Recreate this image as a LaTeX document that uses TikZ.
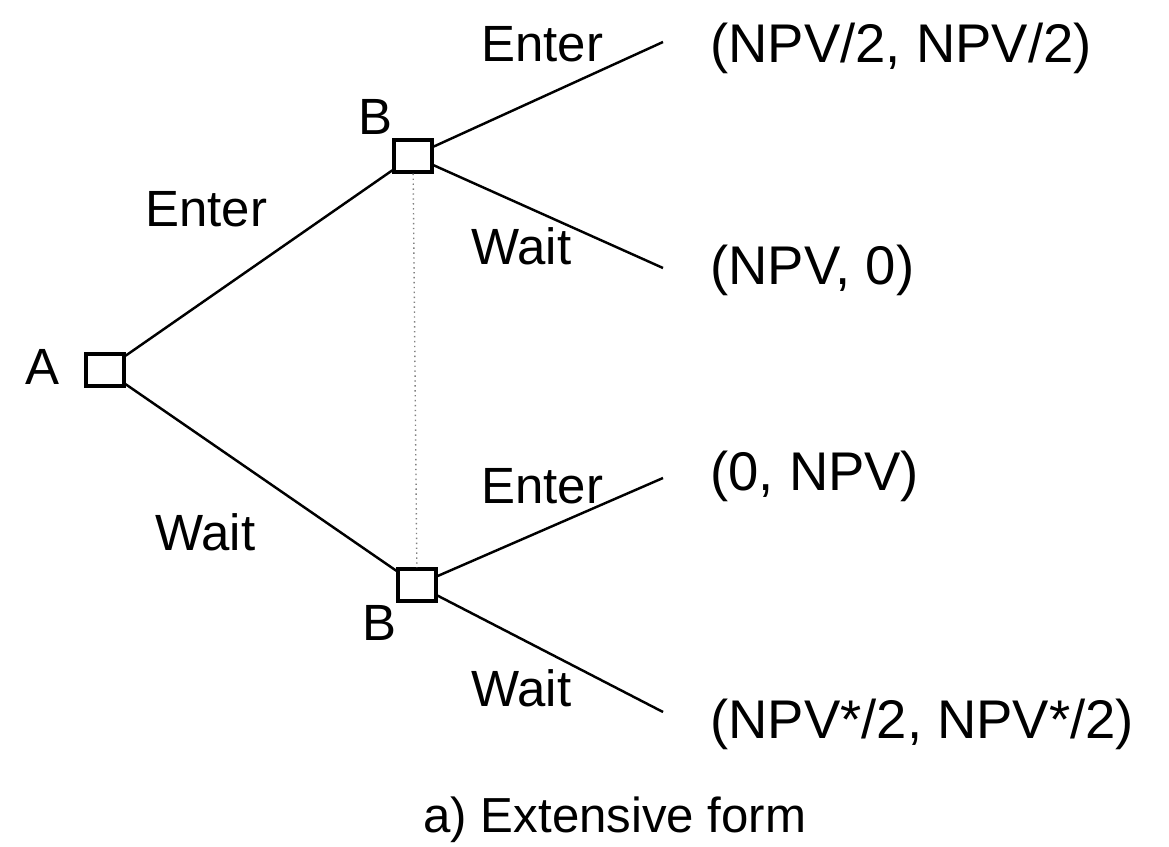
\documentclass[tikz,border=0pt]{standalone}
\usepackage{fontspec}
\setmainfont{Liberation Sans}

\begin{document}
\begin{tikzpicture}[x=0.02cm,y=-0.02cm,
  decision/.style={draw,line width=1.9pt,minimum width=0.76cm,minimum height=0.64cm,inner sep=0pt},
  branch/.style={line width=1.4pt},
  info/.style={dotted,gray,line width=0.8pt},
  lbl/.style={anchor=base west,font=\fontsize{29}{34}\selectfont,inner sep=0pt},
  payoff/.style={anchor=base west,font=\fontsize{31}{36}\selectfont,inner sep=0pt}]
\useasboundingbox (0,0) rectangle (1169,847);
\node[decision] (A) at (105,370) {};
\node[decision] (B1) at (413,156) {};
\node[decision] (B2) at (417,585) {};
\node[lbl] (labA) at (25,385) {A};
\node[lbl] (labB1) at (358,135) {B};
\node[lbl] (labB2) at (362,640) {B};
\coordinate (e1) at (663,42);
\coordinate (e2) at (663,268);
\coordinate (e3) at (663,478);
\coordinate (e4) at (663,712);
\draw[branch] (A) -- (B1);
\draw[branch] (A) -- (B2);
\draw[branch] (B1) -- (e1);
\draw[branch] (B1) -- (e2);
\draw[branch] (B2) -- (e3);
\draw[branch] (B2) -- (e4);
\draw[info] (B1) -- (B2);
\node[lbl] (enterA) at (145,227) {Enter};
\node[lbl] (waitA) at (155,550) {Wait};
\node[lbl] (enterB1) at (481,62) {Enter};
\node[lbl] (waitB1) at (471,265) {Wait};
\node[lbl] (enterB2) at (481,503) {Enter};
\node[lbl] (waitB2) at (471,706) {Wait};
\node[payoff] (pay1) at (710,63) {(NPV/2, NPV/2)};
\node[payoff] (pay2) at (710,285) {(NPV, 0)};
\node[payoff] (pay3) at (710,490) {(0, NPV)};
\node[payoff] (pay4) at (710,738) {(NPV*/2, NPV*/2)};
\node[anchor=base,font=\fontsize{28}{33}\selectfont,inner sep=0pt] (caption) at (615,832) {a) Extensive form};
\end{tikzpicture}
\end{document}
